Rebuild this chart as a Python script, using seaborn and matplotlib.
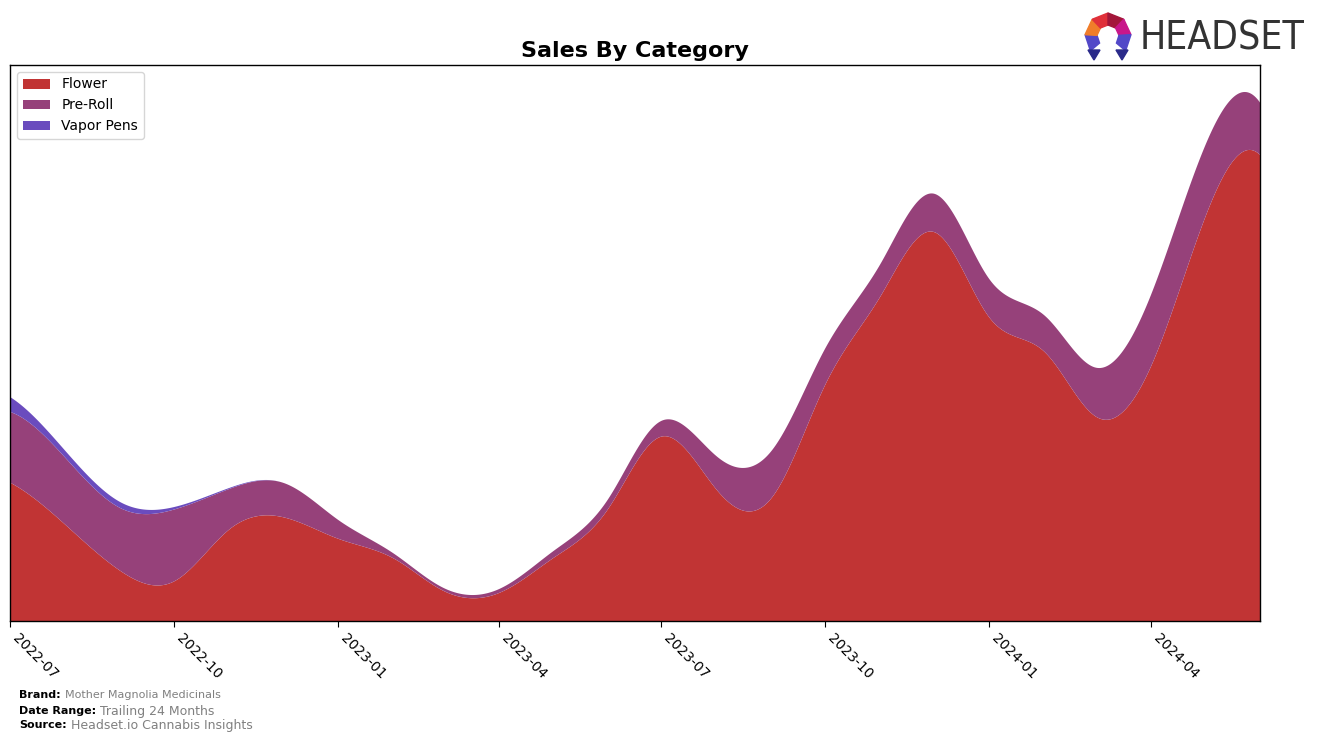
import numpy as np
import pandas as pd
import seaborn as sns
import matplotlib as mpl
from matplotlib import pyplot as plt
from matplotlib.patches import Polygon
import matplotlib.dates as mdates

# monthly sales, arbitrary units (y axis is hidden in the original)
months = pd.date_range("2022-07-01", "2024-06-01", freq="MS")
flower = [141, 98, 51, 41, 94, 106, 84, 64, 31, 29, 64, 114,
          188, 134, 126, 241, 331, 396, 309, 274, 208, 261, 411, 474]
pre_roll = [72, 68, 64, 73, 41, 35, 19, 5, 3, 4, 7, 10,
            16, 34, 48, 37, 33, 39, 39, 37, 50, 73, 73, 53]
vapor_pens = [15, 7, 6, 2.5, 1, 0, 0, 0, 0, 0, 0, 0,
              0, 0, 0, 0, 0, 0, 0, 0, 0, 0, 0, 0]
categories = ["Flower", "Pre-Roll", "Vapor Pens"]
colors = ["#c13434", "#96417a", "#6a4cbe"]


def spline(x, y, xs):
    # cubic spline, not-a-knot ends
    x = np.asarray(x, float)
    y = np.asarray(y, float)
    n = len(x)
    h = np.diff(x)
    A = np.zeros((n, n))
    r = np.zeros(n)
    A[0, 0], A[0, 1], A[0, 2] = h[1], -(h[0] + h[1]), h[0]
    A[-1, -3], A[-1, -2], A[-1, -1] = h[-1], -(h[-2] + h[-1]), h[-2]
    for i in range(1, n - 1):
        A[i, i - 1] = h[i - 1]
        A[i, i] = 2 * (h[i - 1] + h[i])
        A[i, i + 1] = h[i]
        r[i] = 6 * ((y[i + 1] - y[i]) / h[i] - (y[i] - y[i - 1]) / h[i - 1])
    M = np.linalg.solve(A, r)
    idx = np.clip(np.searchsorted(x, xs) - 1, 0, n - 2)
    x0, x1, hh = x[idx], x[idx + 1], h[idx]
    return (M[idx] * (x1 - xs) ** 3 / (6 * hh) + M[idx + 1] * (xs - x0) ** 3 / (6 * hh)
            + (y[idx] / hh - M[idx] * hh / 6) * (x1 - xs)
            + (y[idx + 1] / hh - M[idx + 1] * hh / 6) * (xs - x0))


sns.set_style("white", {"axes.edgecolor": "black"})
plt.rcParams["font.family"] = ["DejaVu Sans"]
plt.rcParams["text.color"] = "black"

fig = plt.figure(figsize=(13.24, 7.41), dpi=100)
ax = fig.add_axes([10 / 1324, 1 - 621 / 741, 1250 / 1324, 556 / 741])

xnum = mdates.date2num(months)
xs = np.linspace(xnum[0], xnum[-1], 800)
smooth = [np.clip(spline(xnum, s, xs), 0, None) for s in (flower, pre_roll, vapor_pens)]

ax.stackplot(mdates.num2date(xs), *smooth, labels=categories, colors=colors, linewidth=0)
ax.set_xlim(mdates.num2date(xnum[0]), mdates.num2date(xnum[-1]))

ax.xaxis.set_major_locator(mdates.MonthLocator(bymonth=[1, 4, 7, 10]))
ax.xaxis.set_major_formatter(mdates.DateFormatter("%Y-%m"))
ax.tick_params(axis="x", bottom=True, length=4, labelsize=10, colors="black")
plt.setp(ax.get_xticklabels(), rotation=-45, ha="left")
ax.set_yticks([])
for sp in ax.spines.values():
    sp.set_color("black")
    sp.set_linewidth(1)

ax.legend(loc="upper left", fontsize=10, frameon=True, handlelength=2,
          bbox_to_anchor=(0.0, 1.0), borderaxespad=0.5)
ax.set_title("Sales By Category", fontsize=16, fontweight="bold", pad=6, color="black")

# footer
def foot(y, label, value, size):
    t = fig.text(19 / 1324, 1 - y / 741, label, fontsize=8, fontweight="bold", va="center")
    fig.canvas.draw()
    bb = t.get_window_extent()
    fig.text((bb.x1 + 4) / 1324, 1 - y / 741, value, fontsize=size, color="gray", va="center")

foot(695, "Brand:", "Mother Magnolia Medicinals", 8)
foot(711, "Date Range:", "Trailing 24 Months", 9)
foot(725, "Source:", "Headset.io Cannabis Insights", 9)

# logo
logo = fig.text(1140 / 1324, 1 - 38 / 741, "HEADSET", fontsize=34, color="#333333",
                family=["DejaVu Sans"], fontstretch="condensed", va="center", ha="left")
fig.canvas.draw()
size = 34
while logo.get_window_extent().width > 168 and size > 10:
    size -= 1
    logo.set_fontsize(size)
    fig.canvas.draw()

cx, cy, ro, ri = 1108, 36, 23, 11
seg_cols = ["#5248c8", "#f07d2a", "#e0303a", "#a3163a", "#c8168a", "#5248c8"]
angles = np.linspace(220, -40, 7)
for k in range(6):
    a0, a1 = np.radians(angles[k]), np.radians(angles[k + 1])
    pts = [(cx + ro * np.cos(a0), cy - ro * np.sin(a0)), (cx + ro * np.cos(a1), cy - ro * np.sin(a1)),
           (cx + ri * np.cos(a1), cy - ri * np.sin(a1)), (cx + ri * np.cos(a0), cy - ri * np.sin(a0))]
    fig.add_artist(Polygon([(px / 1324, 1 - py / 741) for px, py in pts],
                           closed=True, color=seg_cols[k], transform=fig.transFigure))
for sx in (-1, 1):
    pts = [(cx + sx * 20, 50), (cx + sx * 8, 50), (cx + sx * 14, 60)]
    fig.add_artist(Polygon([(px / 1324, 1 - py / 741) for px, py in pts],
                           closed=True, color="#2a2a8a", transform=fig.transFigure))

fig.savefig("out.png", dpi=100)
